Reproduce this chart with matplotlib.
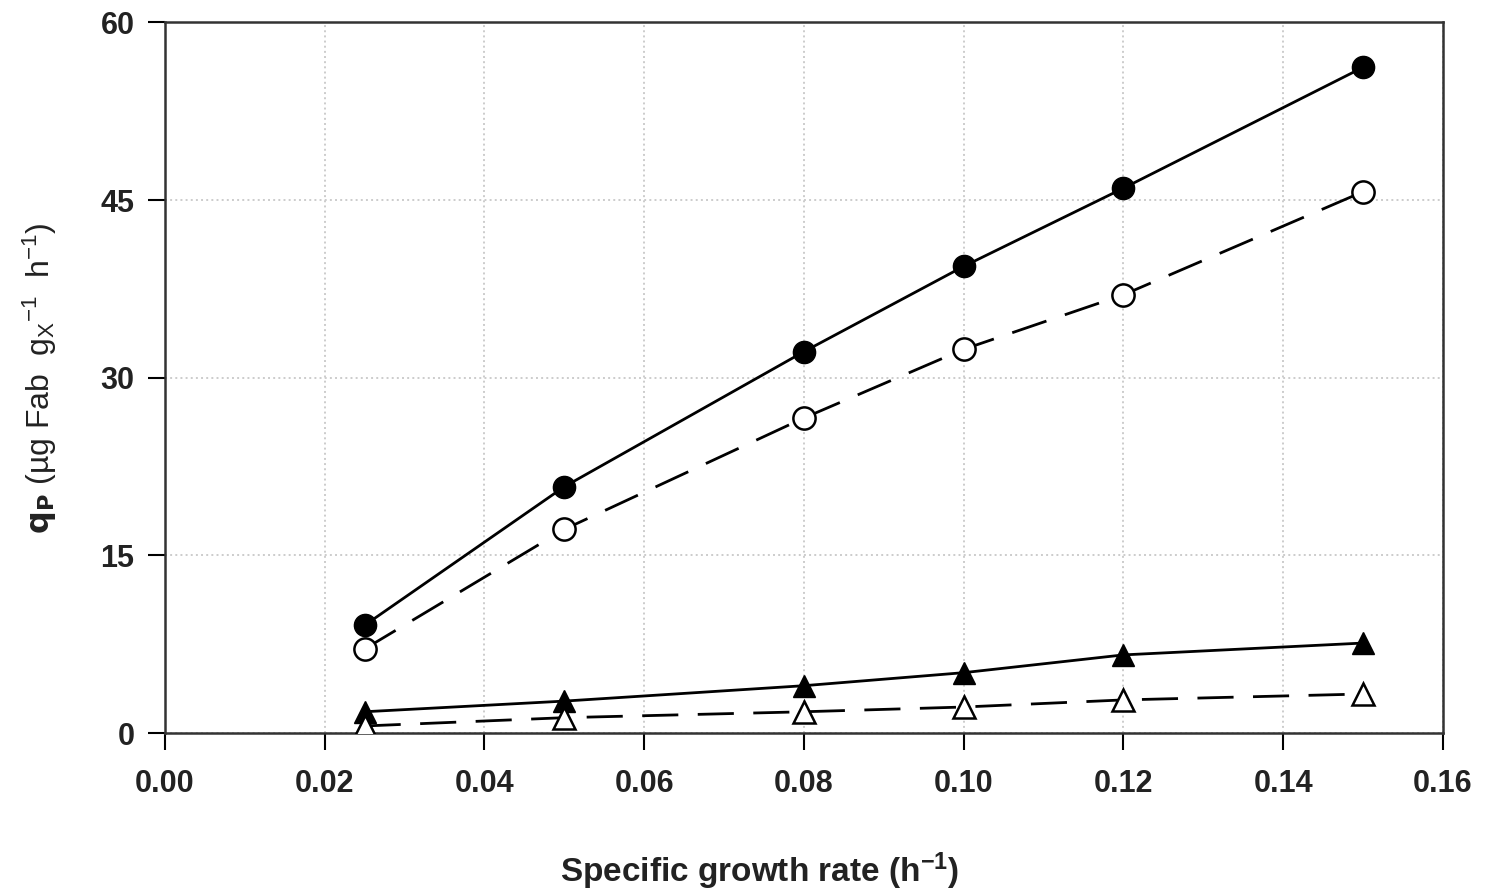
import matplotlib
matplotlib.use("Agg")
import matplotlib.pyplot as plt

plt.rcParams['font.family'] = ['Liberation Sans', 'DejaVu Sans']
plt.rcParams['mathtext.default'] = 'regular'

mu = [0.025, 0.05, 0.08, 0.10, 0.12, 0.15]
filled_circles = [9.1, 20.8, 32.2, 39.4, 46.0, 56.2]
open_circles = [7.1, 17.2, 26.6, 32.4, 37.0, 45.7]
filled_triangles = [1.8, 2.7, 4.0, 5.1, 6.6, 7.6]
open_triangles = [0.6, 1.3, 1.8, 2.2, 2.8, 3.3]

xticks = [0.00, 0.02, 0.04, 0.06, 0.08, 0.10, 0.12, 0.14, 0.16]
yticks = [0, 15, 30, 45, 60]

fig = plt.figure(figsize=(14.86, 8.94), dpi=100)
ax = fig.add_axes([0.111, 0.180, 0.860, 0.795])

ax.grid(True, color='#cccccc', linestyle=':', linewidth=1.4)
ax.set_axisbelow(True)

ax.plot(mu, filled_circles, '-', color='black', lw=2, marker='o', ms=16,
        mfc='black', mec='black', zorder=3)
ax.plot(mu, open_circles, color='black', lw=2, dashes=(13, 7), marker='o', ms=16,
        mfc='white', mec='black', mew=1.8, zorder=3)
ax.plot(mu, filled_triangles, '-', color='black', lw=2, marker='^', ms=16,
        mfc='black', mec='black', zorder=3)
ax.plot(mu, open_triangles, color='black', lw=2, dashes=(13, 7), marker='^', ms=16,
        mfc='white', mec='black', mew=1.8, zorder=3)

ax.set_xlim(0, 0.16)
ax.set_ylim(0, 60)
ax.set_xticks(xticks)
ax.set_xticklabels([f'{v:.2f}' for v in xticks])
ax.set_yticks(yticks)
ax.tick_params(direction='out', length=12, width=1.5, labelsize=22, pad=10)
ax.tick_params(axis='x', pad=14)
for lab in ax.get_xticklabels() + ax.get_yticklabels():
    lab.set_fontweight('bold')
    lab.set_color('#222222')
for s in ax.spines.values():
    s.set_linewidth(1.8)
    s.set_color('#333333')

ax.set_xlabel('Specific growth rate (h$^{-1}$)', fontsize=24, fontweight='bold',
              labelpad=36, color='#222222')
ax.xaxis.set_label_coords(0.465, -0.165)
ax.set_ylabel('$\\mathbf{q_P}$ (µg Fab  g$_X$$^{-1}$  h$^{-1}$)', fontsize=23,
              labelpad=30, color='#222222')

fig.savefig('out.png', dpi=100)
